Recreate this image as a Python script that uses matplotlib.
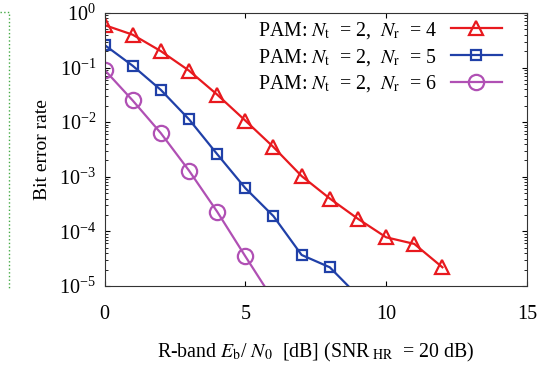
import numpy as np
import matplotlib.pyplot as plt
from matplotlib.lines import Line2D

plt.rcParams['font.family'] = ['Liberation Serif', 'DejaVu Serif']
plt.rcParams['mathtext.fontset'] = 'stix'

# Data
snr_red = [0, 1, 2, 3, 4, 5, 6, 7, 8, 9, 10, 11, 12]
ber_nr4 = [0.60, 0.40, 0.20, 0.088, 0.032, 0.0107, 0.0035, 0.00103,
           0.00040, 1.7e-4, 7.8e-5, 5.9e-5, 2.2e-5]

snr_blue = [0, 1, 2, 3, 4, 5, 6, 7, 8, 9]
ber_nr5 = [0.26, 0.108, 0.039, 0.0113, 0.0026, 6.2e-4, 1.9e-4,
           3.7e-5, 2.2e-5, 6.6e-6]

snr_purple = [0, 1, 2, 3, 4, 5, 6]
ber_nr6 = [0.091, 0.025, 0.0063, 0.0013, 2.3e-4, 3.5e-5, 5.5e-6]

labels = [r'PAM: $N_\mathrm{t}$  = 2,  $N_\mathrm{r}$  = 4',
          r'PAM: $N_\mathrm{t}$  = 2,  $N_\mathrm{r}$  = 5',
          r'PAM: $N_\mathrm{t}$  = 2,  $N_\mathrm{r}$  = 6']

fig = plt.figure(figsize=(5.5, 3.66), dpi=100)
ax = fig.add_axes([0.190, 0.2186, 0.768, 0.746])

ax.plot(snr_red, ber_nr4, '-^', color='#e8191e', lw=1.6, ms=10,
        mfc='none', mew=1.6, label=labels[0])
ax.plot(snr_blue, ber_nr5, '-s', color='#2040a8', lw=1.6, ms=7.5,
        mfc='none', mew=1.6, label=labels[1])
ax.plot(snr_purple, ber_nr6, '-o', color='#b050b4', lw=1.6, ms=11,
        mfc='none', mew=1.6, label=labels[2])

ax.set_yscale('log')
ax.set_xlim(0, 15)
ax.set_ylim(1e-5, 1)
ax.set_xticks([0, 5, 10, 15])
ax.tick_params(which='both', direction='in', top=True, right=True,
               labelsize=14.5)
ax.tick_params(axis='x', pad=14)
ax.tick_params(axis='y', pad=6)
for s in ax.spines.values():
    s.set_color('#333333')

ax.set_ylabel('Bit error rate', fontsize=14, labelpad=6)
ax.set_xlabel(r'R-band $E_\mathrm{b}$/ $N_0$  [dB] (SNR$_\mathrm{\ HR}$  = 20 dB)',
              fontsize=14.3, labelpad=12)

ax.legend(loc='upper right', bbox_to_anchor=(0.979, 1.033),
          markerfirst=False, frameon=False, fontsize=14.3,
          handlelength=2.6, handletextpad=0.7, labelspacing=0.3,
          borderaxespad=0.4)

# piece of the neighbouring panel's dotted frame
fig.add_artist(Line2D([0.0, 0.016, 0.016], [0.967, 0.967, 0.207],
                      color='#44aa44', lw=1, ls=':'))

fig.savefig('out.png', dpi=100)
